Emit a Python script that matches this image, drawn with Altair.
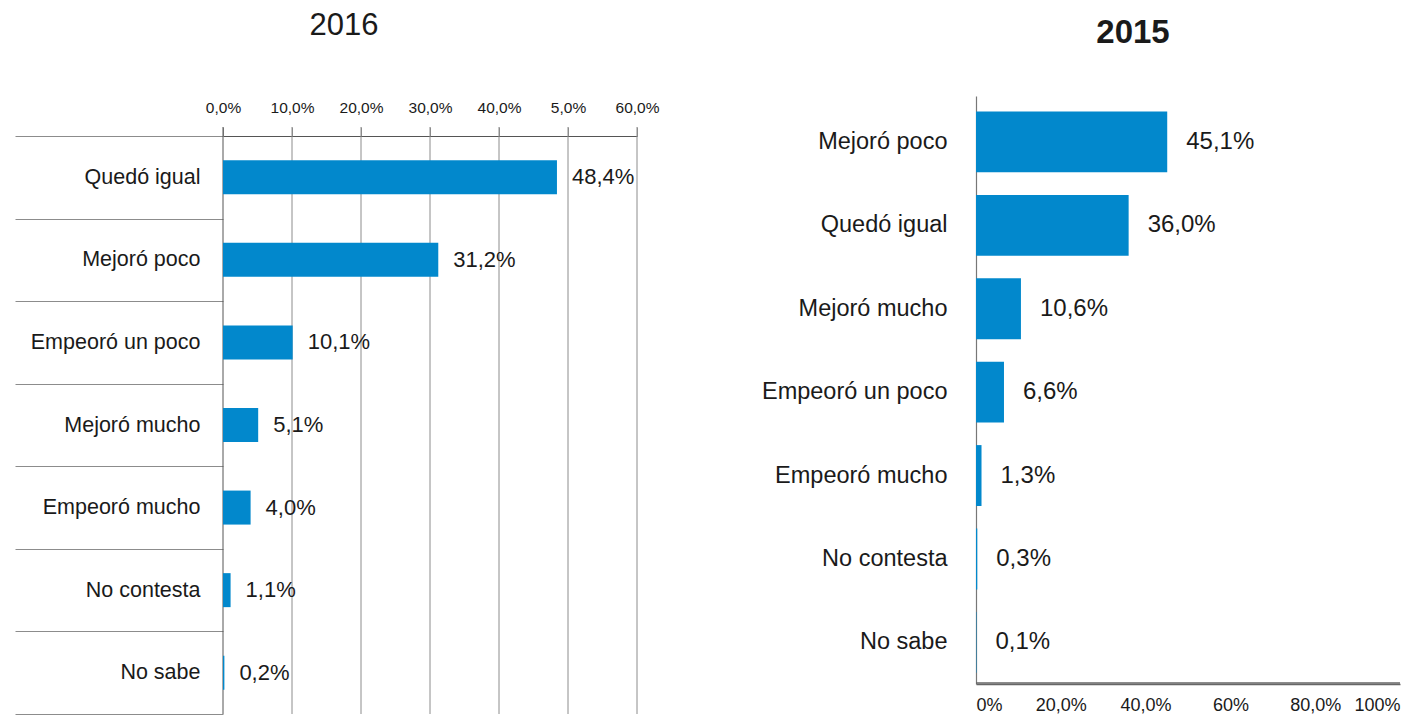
import altair as alt
import pandas as pd

# ---- data ----
cats_2016 = ["Quedó igual", "Mejoró poco", "Empeoró un poco", "Mejoró mucho",
             "Empeoró mucho", "No contesta", "No sabe"]
vals_2016 = [48.4, 31.2, 10.1, 5.1, 4.0, 1.1, 0.2]
ticks_2016 = [0, 10, 20, 30, 40, 50, 60]
ticklabels_2016 = ["0,0%", "10,0%", "20,0%", "30,0%", "40,0%", "5,0%", "60,0%"]

cats_2015 = ["Mejoró poco", "Quedó igual", "Mejoró mucho", "Empeoró un poco",
             "Empeoró mucho", "No contesta", "No sabe"]
vals_2015 = [45.1, 36.0, 10.6, 6.6, 1.3, 0.3, 0.1]
ticks_2015 = [0, 20, 40, 60, 80, 100]
ticklabels_2015 = ["0%", "20,0%", "40,0%", "60%", "80,0%", "100%"]

BLUE = "#0288cc"
GRAY = "#8c8c8c"
DARK = "#555555"
TXT = "#1a1a1a"
FONT = "Liberation Sans"


def fmt(v):
    return f"{v:.1f}".replace(".", ",") + "%"


df16 = pd.DataFrame({"cat": cats_2016, "v": vals_2016,
                     "label": [fmt(v) for v in vals_2016]})
df15 = pd.DataFrame({"cat": cats_2015, "v": vals_2015,
                     "label": [fmt(v) for v in vals_2015]})
grid16 = pd.DataFrame({"v": ticks_2016})
base15 = pd.DataFrame({"a": [ticks_2015[0]], "b": [ticks_2015[-1]]})


def label_expr(labels, step):
    arr = "[" + ",".join(f"'{l}'" for l in labels) + "]"
    return f"{arr}[round(datum.value/{step})]"


# ---- 2016 (left) ----
WL, HL = 414, 618
xs16 = alt.Scale(domain=[0, 60], nice=False, zero=True)
ys16 = alt.Scale(domain=cats_2016, paddingInner=0, paddingOuter=0.2423, align=1)

x16_axis = alt.Axis(orient="top", offset=-40, values=ticks_2016,
                    labelExpr=label_expr(ticklabels_2016, 10),
                    grid=False, domain=True, domainColor=DARK, ticks=True,
                    tickSize=9, tickColor=GRAY, labelPadding=12,
                    labelFlush=False, labelFontSize=15.5, labelColor=TXT,
                    title=None)
y16_axis = alt.Axis(orient="left", tickBand="extent", tickSize=208,
                    tickColor=GRAY, domain=False, grid=False,
                    labelPadding=-185, labelFontSize=21.5, labelColor=TXT,
                    labelLimit=400, title=None)

rules16 = alt.Chart(grid16).mark_rule(strokeWidth=1).encode(
    x=alt.X("v:Q", scale=xs16, axis=x16_axis),
    y=alt.value(31), y2=alt.value(HL),
    color=alt.condition("datum.v == 0", alt.value(DARK), alt.value(GRAY)))
bars16 = alt.Chart(df16).mark_bar(color=BLUE, height=34).encode(
    x=alt.X("v:Q", scale=xs16, axis=x16_axis),
    y=alt.Y("cat:N", scale=ys16, sort=cats_2016, axis=y16_axis))
text16 = alt.Chart(df16).mark_text(align="left", baseline="middle", dx=15,
                                   fontSize=22, color=TXT).encode(
    x=alt.X("v:Q", scale=xs16, axis=x16_axis),
    y=alt.Y("cat:N", scale=ys16, sort=cats_2016, axis=y16_axis),
    text="label:N")

left = alt.layer(rules16, bars16, text16).properties(
    width=WL, height=HL,
    title=alt.TitleParams("2016", fontSize=31, fontWeight="normal",
                          color=TXT, anchor="middle", frame="group",
                          dx=-86, offset=19, baseline="alphabetic"))

# ---- 2015 (right) ----
WR, HR = 424, 588
xs15 = alt.Scale(domain=[0, 100], nice=False)
ys15 = alt.Scale(domain=cats_2015, paddingInner=0.27, paddingOuter=0.16,
                 align=0.58)

x15_axis = alt.Axis(orient="bottom", values=ticks_2015,
                    labelExpr=label_expr(ticklabels_2015, 20),
                    grid=False, domain=True, domainColor="#666666",
                    domainWidth=1.5, ticks=False,
                    labelPadding=12, labelFontSize=18, labelColor=TXT,
                    labelFlush=True, title=None)
y15_axis = alt.Axis(orient="left", ticks=False, domain=True,
                    domainColor="#777777", domainWidth=1.2,
                    grid=False, labelPadding=29, labelFontSize=23.5,
                    labelColor=TXT, labelLimit=400, title=None)

baseline15 = alt.Chart(base15).mark_rule(color="#666666", strokeWidth=1.5).encode(
    x=alt.X("a:Q", scale=xs15, axis=x15_axis),
    x2="b:Q",
    y=alt.value(HR - 1))
bars15 = alt.Chart(df15).mark_bar(color=BLUE).encode(
    x=alt.X("v:Q", scale=xs15, axis=x15_axis),
    y=alt.Y("cat:N", scale=ys15, sort=cats_2015, axis=y15_axis))
text15 = alt.Chart(df15).mark_text(align="left", baseline="middle", dx=19,
                                   fontSize=24, color=TXT).encode(
    x=alt.X("v:Q", scale=xs15, axis=x15_axis),
    y=alt.Y("cat:N", scale=ys15, sort=cats_2015, axis=y15_axis),
    text="label:N")

right = alt.layer(baseline15, bars15, text15).properties(
    width=WR, height=HR,
    title=alt.TitleParams("2015", fontSize=33, fontWeight="bold",
                          color=TXT, anchor="middle", frame="group",
                          dx=-55, offset=20, baseline="alphabetic"))

chart = alt.hconcat(left, right, spacing=102).properties(
    padding={"left": 6, "top": 2, "right": 5, "bottom": 0}
).configure(font=FONT).configure_view(stroke="transparent", strokeWidth=0)

chart.save("out.html", embed_options={"renderer": "svg", "actions": False})
